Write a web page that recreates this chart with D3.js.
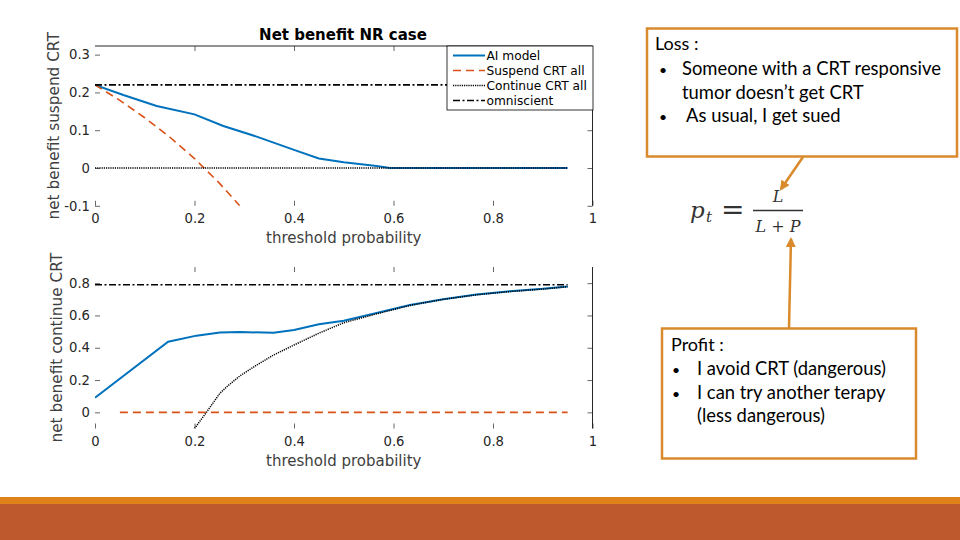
<!DOCTYPE html>
<html><head><meta charset="utf-8">
<script src="https://cdn.jsdelivr.net/npm/d3@7"></script>
<style>body{margin:0;background:#fff}svg{display:block}</style>
</head><body><svg id="c" width="960" height="540"></svg>
<script>
// ---- data ----
const xTicks = [0, 0.2, 0.4, 0.6, 0.8, 1];
const topYTicks = [-0.1, 0, 0.1, 0.2, 0.3];
const botYTicks = [0, 0.2, 0.4, 0.6, 0.8];
const seriesNames = ["AI model", "Suspend CRT all", "Continue CRT all", "omniscient"];

const topAiX = [0, 0.057, 0.124, 0.20, 0.258, 0.325, 0.40, 0.45, 0.50, 0.566, 0.593, 0.95];
const topAiY = [0.22, 0.193, 0.164, 0.142, 0.111, 0.083, 0.048, 0.025, 0.015, 0.005, 0, 0];
const topSuspendX = [0, 0.05, 0.1, 0.15, 0.2, 0.25, 0.291];
const topSuspendY = [0.22, 0.179, 0.133, 0.082, 0.025, -0.04, -0.1];
const topContinueX = [0, 0.95];
const topContinueY = [0, 0];
const topOmniX = [0, 0.95];
const topOmniY = [0.22, 0.22];

const botAiX = [0, 0.147, 0.204, 0.251, 0.291, 0.359, 0.40, 0.45, 0.50, 0.566, 0.633, 0.70, 0.767, 0.834, 0.90, 0.95];
const botAiY = [0.09, 0.437, 0.475, 0.495, 0.497, 0.493, 0.51, 0.545, 0.567, 0.615, 0.665, 0.70, 0.73, 0.75, 0.765, 0.78];
const botSuspendX = [0.05, 0.95];
const botSuspendY = [0, 0];
const botContinueX = [0.2, 0.224, 0.251, 0.265, 0.291, 0.325, 0.359, 0.40, 0.45, 0.50, 0.566, 0.633, 0.70, 0.767, 0.834, 0.90, 0.95];
const botContinueY = [-0.1, 0, 0.118, 0.159, 0.225, 0.293, 0.355, 0.417, 0.49, 0.555, 0.61, 0.662, 0.70, 0.728, 0.748, 0.763, 0.778];
const botOmniX = [0, 0.95];
const botOmniY = [0.79, 0.79];

const lossTitle = "Loss :";
const lossLines = [["•", "Someone with a CRT responsive"], ["", "tumor doesn’t get CRT"], ["•", " As usual, I get sued"]];
const profitTitle = "Profit :";
const profitLines = [["•", "I avoid CRT (dangerous)"], ["•", "I can try another terapy"], ["", "(less dangerous)"]];

// ---- styles ----
const C_BLUE = "#0072BD", C_ORANGE = "#D95319", C_TXT = "#262626", C_BOX = "#D98A2C";
const styles = [
  {stroke: C_BLUE, width: 2, dash: null},
  {stroke: C_ORANGE, width: 1.6, dash: "8,5"},
  {stroke: "#000", width: 1.5, dash: "1.2,1"},
  {stroke: "#000", width: 1.6, dash: "7,2.5,2,2.5"}
];

const svg = d3.select("#c");
const FONT = "DejaVu Sans";
const x = d3.scaleLinear().domain([0, 1]).range([95, 592.5]);

function zip(xs, ys) { return xs.map((v, i) => [v, ys[i]]); }

function panel(id, y, yTicks, series, opts) {
  const g = svg.append("g");
  const [y0, y1] = y.range();
  g.append("clipPath").attr("id", id).append("rect")
    .attr("x", x(0)).attr("y", y1).attr("width", x(1) - x(0)).attr("height", y0 - y1);
  const line = d3.line().x(d => x(d[0])).y(d => y(d[1]));
  const lg = g.append("g").attr("clip-path", `url(#${id})`);
  series.forEach((s, i) => {
    lg.append("path").datum(s).attr("d", line).attr("fill", "none")
      .attr("stroke", styles[i].stroke).attr("stroke-width", styles[i].width)
      .attr("stroke-dasharray", styles[i].dash);
  });
  const fmt = d => String(d);
  const aL = g.append("g").attr("transform", `translate(${x(0)},0)`)
    .call(d3.axisLeft(y).tickValues(yTicks).tickSizeInner(-5).tickSizeOuter(0).tickPadding(5).tickFormat(fmt));
  const aB = g.append("g").attr("transform", `translate(0,${y0})`)
    .call(d3.axisBottom(x).tickValues(xTicks).tickSizeInner(-5).tickSizeOuter(0).tickPadding(8).tickFormat(fmt));
  const aT = g.append("g").attr("transform", `translate(0,${y1})`)
    .call(d3.axisTop(x).tickValues(xTicks.slice(1, -1)).tickSizeInner(-5).tickSizeOuter(0).tickFormat(""));
  const aR = g.append("g").attr("transform", `translate(${x(1)},0)`)
    .call(d3.axisRight(y).tickValues(yTicks).tickSizeInner(-5).tickSizeOuter(0).tickFormat(""));
  [aL, aB, aT, aR].forEach(a => {
    a.select(".domain").remove();
    a.selectAll("line").attr("stroke", C_TXT).attr("stroke-width", 0.7);
    a.selectAll("text").attr("fill", C_TXT).attr("font-family", FONT).attr("font-size", 13.2);
  });
  g.append("line").attr("x1", x(1)).attr("x2", x(1)).attr("y1", y1).attr("y2", y0)
    .attr("stroke", C_TXT).attr("stroke-width", 1);
  if (opts.topBorder) g.append("line").attr("x1", x(0)).attr("x2", x(1)).attr("y1", y1).attr("y2", y1)
    .attr("stroke", C_TXT).attr("stroke-width", 1);
  g.append("text").attr("x", (x(0) + x(1)) / 2).attr("y", opts.xlabY).attr("text-anchor", "middle")
    .attr("font-family", FONT).attr("font-size", 15).attr("fill", "#404040").text("threshold probability");
  g.append("text").attr("transform", `translate(${opts.ylabX},${(y0 + y1) / 2}) rotate(-90)`)
    .attr("text-anchor", "middle").attr("font-family", FONT).attr("font-size", 15.3).attr("fill", "#404040")
    .text(opts.ylab);
  return g;
}

// top panel
const yTop = d3.scaleLinear().domain([-0.1, 0.3228]).range([205.8, 46]);
const gTop = panel("clipTop", yTop, topYTicks,
  [zip(topAiX, topAiY), zip(topSuspendX, topSuspendY), zip(topContinueX, topContinueY), zip(topOmniX, topOmniY)],
  {topBorder: true, xlabY: 243, ylabX: 58.5, ylab: "net benefit suspend CRT"});
gTop.append("text").attr("x", 343).attr("y", 40).attr("text-anchor", "middle")
  .attr("font-family", FONT).attr("font-weight", "bold").attr("font-size", 15).attr("fill", "#000")
  .text("Net benefit NR case");

// legend
const lgG = gTop.append("g");
lgG.append("rect").attr("x", 447).attr("y", 46).attr("width", 146).attr("height", 64)
  .attr("fill", "#fff").attr("stroke", "#000").attr("stroke-width", 0.8);
seriesNames.forEach((n, i) => {
  const yy = 55.5 + i * 15;
  lgG.append("line").attr("x1", 453).attr("x2", 485).attr("y1", yy).attr("y2", yy)
    .attr("stroke", styles[i].stroke).attr("stroke-width", styles[i].width).attr("stroke-dasharray", styles[i].dash);
  lgG.append("text").attr("x", 486.5).attr("y", yy + 4.5).attr("font-family", FONT).attr("font-size", 12.2)
    .attr("fill", "#000").text(n);
});

// bottom panel
const yBot = d3.scaleLinear().domain([-0.1, 0.9]).range([428.5, 267]);
panel("clipBot", yBot, botYTicks,
  [zip(botAiX, botAiY), zip(botSuspendX, botSuspendY), zip(botContinueX, botContinueY), zip(botOmniX, botOmniY)],
  {topBorder: false, xlabY: 466, ylabX: 61.5, ylab: "net benefit continue CRT"});

// ---- annotation boxes ----
const TF = "Lato";
svg.append("defs").append("marker").attr("id", "ah").attr("viewBox", "0 0 10 10").attr("refX", 8).attr("refY", 5)
  .attr("markerWidth", 4).attr("markerHeight", 4).attr("orient", "auto")
  .append("path").attr("d", "M0,0 L10,5 L0,10 z").attr("fill", C_BOX);

svg.append("rect").attr("x", 647).attr("y", 28.5).attr("width", 310).attr("height", 128)
  .attr("fill", "#fff").attr("stroke", C_BOX).attr("stroke-width", 2.5);
svg.append("text").attr("x", 655).attr("y", 50).attr("font-family", TF).attr("font-size", 18)
  .attr("fill", "#000").style("white-space", "pre").text(lossTitle);
lossLines.forEach((l, i) => {
  const yy = 75 + i * 23.5;
  if (l[0]) svg.append("text").attr("x", 659).attr("y", yy).attr("font-family", TF).attr("font-size", 14).text(l[0]);
  svg.append("text").attr("x", 682).attr("y", yy).attr("font-family", TF).attr("font-size", 18.4)
    .style("white-space", "pre").text(l[1]);
});

svg.append("rect").attr("x", 662).attr("y", 328.5).attr("width", 254).attr("height", 130)
  .attr("fill", "#fff").attr("stroke", C_BOX).attr("stroke-width", 2.5);
svg.append("text").attr("x", 671).attr("y", 351).attr("font-family", TF).attr("font-size", 18)
  .attr("fill", "#000").style("white-space", "pre").text(profitTitle);
profitLines.forEach((l, i) => {
  const yy = 375 + i * 23.5;
  if (l[0]) svg.append("text").attr("x", 672).attr("y", yy).attr("font-family", TF).attr("font-size", 14).text(l[0]);
  svg.append("text").attr("x", 697).attr("y", yy).attr("font-family", TF).attr("font-size", 18.4).text(l[1]);
});

// arrows
svg.append("line").attr("x1", 803).attr("y1", 157).attr("x2", 781).attr("y2", 189)
  .attr("stroke", C_BOX).attr("stroke-width", 2.5).attr("marker-end", "url(#ah)");
svg.append("line").attr("x1", 789).attr("y1", 328).attr("x2", 791).attr("y2", 239)
  .attr("stroke", C_BOX).attr("stroke-width", 2.5).attr("marker-end", "url(#ah)");

// formula
const MF = "DejaVu Serif";
const fg = svg.append("g").attr("fill", "#333").attr("font-family", MF).attr("font-style", "italic");
fg.append("text").attr("x", 690).attr("y", 218).attr("font-size", 23).text("p");
fg.append("text").attr("x", 706).attr("y", 222).attr("font-size", 15).text("t");
fg.append("text").attr("x", 721).attr("y", 219).attr("font-size", 28).attr("font-style", "normal").text("=");
fg.append("line").attr("x1", 753).attr("x2", 803).attr("y1", 210.5).attr("y2", 210.5).attr("stroke", "#333").attr("stroke-width", 1.5);
fg.append("text").attr("x", 778).attr("y", 201.5).attr("text-anchor", "middle").attr("font-size", 16).text("L");
fg.append("text").attr("x", 778).attr("y", 231.5).attr("text-anchor", "middle").attr("font-size", 16).style("white-space", "pre").text("L + P");

// footer
svg.append("rect").attr("x", 0).attr("y", 497).attr("width", 960).attr("height", 7).attr("fill", "#E0821A");
svg.append("rect").attr("x", 0).attr("y", 504).attr("width", 960).attr("height", 36).attr("fill", "#BD592C");
</script></body></html>
